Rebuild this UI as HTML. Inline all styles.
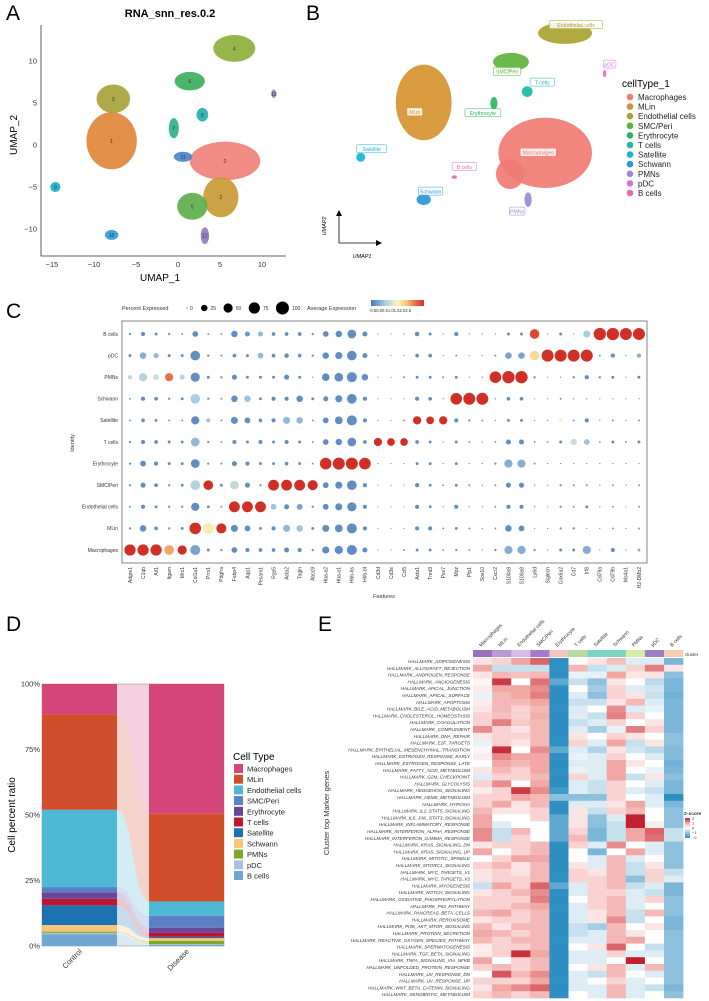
<!DOCTYPE html>
<html><head><meta charset="utf-8">
<style>
html,body{margin:0;padding:0;background:#fff;}
svg{display:block;font-family:"Liberation Sans",sans-serif;}
</style></head>
<body>
<svg id="fig" width="709" height="1001" viewBox="0 0 709 1001" xmlns="http://www.w3.org/2000/svg">
<g font-size="21" fill="#000">
<text x="6" y="20">A</text>
<text x="306" y="20">B</text>
<text x="6" y="318">C</text>
<text x="6" y="631">D</text>
<text x="318" y="631">E</text>
</g>
<g id="pa"></g>
<g id="pb"></g>
<g id="pc"></g>
<g id="pd"></g>
<g id="pe"></g>
</svg>
<script>
// ---------- Panel A data ----------
const aClusterIds = ['0','1','2','3','4','5','6','7','8','9','10','11','12','13'];
const aClusterU = [5.6,-7.9,5.1,-7.7,6.7,1.7,1.4,-0.5,2.9,-14.6,-7.9,0.6,3.2,11.4];
const aClusterV = [-1.9,0.5,-6.2,5.5,11.5,-7.3,7.6,2.0,3.6,-5.0,-10.7,-1.4,-10.8,6.1];
const aClusterRU = [4.2,3.0,2.1,2.0,2.5,1.8,1.8,0.6,0.7,0.6,0.8,1.1,0.5,0.3];
const aClusterRV = [2.3,3.4,2.4,1.7,1.6,1.6,1.1,1.2,0.8,0.6,0.6,0.6,1.0,0.5];
const aColors = ['#F0827B','#E0853A','#C99A35','#A8A23A','#8DB03C','#5CB04A','#3DAE5E','#2DB38D','#22B3AE','#1FAFCB','#2E9FDB','#4A86C8','#8E7CC3','#9A7FC0'];
const aXTicks = [-15,-10,-5,0,5,10];
const aYTicks = [-10,-5,0,5,10];
// ---------- Panel B data ----------
const bTypes = ['Macrophages','MLin','Endothelial cells','SMC/Peri','Erythrocyte','T cells','Satellite','Schwann','PMNs','pDC','B cells'];
const bColors = ['#F07C74','#D5922F','#A9A331','#5FB23C','#2DB35F','#1DBBA5','#19B4D2','#2A97D8','#9C86D6','#D873D4','#E96AAE'];
const bClusterU = [22.8,9.3,25,19,17.1,20.8,2.3,9.3,20.9,29.4,12.7];
const bClusterV = [10.8,16.4,24.1,20.9,16.3,17.6,10.3,5.6,5.6,19.6,8.1];
const bClusterRU = [5.2,3.1,3.0,2.0,0.4,0.6,0.5,0.8,0.4,0.2,0.3];
const bClusterRV = [3.9,4.2,1.2,1.0,0.7,0.6,0.5,0.6,0.8,0.4,0.2];
// ---------- Panel C data ----------
const cRows = ['B cells','pDC','PMNs','Schwann','Satellite','T cells','Erythrocyte','SMC/Peri','Endothelial cells','MLin','Macrophages'];
const cFeatures = ['Adgre1','C1qb','Aif1','Itgam','Mrc1','Col1a1','Prrx1','Pdgfra','Fabp4','Aqp1','Pecam1','Rgs5','Acta2','Tagln','Abcc9','Hba-a2','Hba-a1','Hbb-bs','Hbb-bt','Cd3d','Cd3e','Ccl5','Acta1','Tnnt3','Pax7','Mpz','Plp1','Sox10','Cxcr2','S100a9','S100a8','Ly6d','Siglech','Cox6a2','Cd7','Irf8','Cd79a','Cd79b','Ms4a1','H2-DMb2'];
const cPct = [
[3,10,5,3,2,20,2,2,25,15,15,8,8,8,3,20,25,45,15,1,1,1,12,5,1,10,1,1,1,5,5,55,1,5,1,30,90,90,85,85],
[5,25,15,5,5,55,3,2,8,5,20,8,12,8,3,25,30,55,15,0,0,0,8,8,0,2,1,0,2,25,25,55,85,85,85,85,2,10,1,10],
[10,40,20,40,15,50,5,3,15,5,5,5,15,5,1,35,45,60,25,0,0,2,5,5,2,5,1,1,80,90,90,3,0,1,3,10,3,5,0,5],
[2,10,8,3,5,55,3,2,25,25,5,10,10,25,5,15,30,55,10,0,0,0,10,8,1,80,85,85,1,8,8,0,0,2,1,1,0,1,0,1],
[2,8,5,2,2,40,10,2,30,20,8,10,30,25,2,20,35,60,10,0,0,2,40,35,40,10,3,2,0,5,5,1,1,5,2,10,1,2,1,2],
[3,10,8,5,5,45,3,2,10,5,10,5,10,5,2,20,25,45,8,40,35,35,8,5,1,5,2,1,2,15,15,2,2,5,25,20,2,5,2,5],
[3,20,10,5,5,45,3,2,15,10,5,5,8,5,2,80,85,85,80,1,1,1,5,5,1,5,1,1,3,40,40,2,1,1,1,1,1,1,1,1],
[3,15,8,3,5,55,55,5,45,15,3,70,70,70,60,20,30,55,10,0,0,0,10,5,2,5,2,1,2,15,15,1,1,3,2,2,1,2,1,2],
[2,10,5,3,3,40,5,2,70,70,70,20,15,20,3,20,30,50,10,0,0,0,10,5,1,10,1,1,2,10,10,1,0,3,2,5,1,2,0,2],
[3,25,8,3,5,80,70,60,30,20,5,10,30,25,5,30,35,60,10,0,0,0,10,10,2,5,2,1,2,25,20,1,1,3,3,1,1,2,1,2],
[75,75,75,55,50,60,5,3,20,10,8,8,15,10,3,30,40,60,15,0,1,2,5,5,2,3,2,1,3,40,40,3,1,5,5,40,1,10,1,5]];
const cExp = [
[-0.3,-0.3,-0.3,-0.3,-0.3,-0.3,-0.3,-0.3,-0.3,-0.2,0.1,-0.3,-0.3,-0.3,-0.3,-0.3,-0.3,-0.3,-0.3,-0.3,-0.3,-0.3,-0.3,-0.3,-0.3,-0.3,-0.3,-0.3,-0.3,-0.3,-0.3,2.3,-0.3,-0.3,-0.3,0.3,2.5,2.5,2.5,2.5],
[-0.3,0,0.1,-0.3,-0.3,-0.3,-0.3,-0.3,-0.3,-0.3,0.1,-0.3,-0.3,-0.3,-0.3,-0.3,-0.3,-0.3,-0.3,-0.3,-0.3,-0.3,-0.3,-0.3,-0.3,-0.3,-0.3,-0.3,-0.3,-0.1,-0.1,1.3,2.5,2.5,2.5,2.5,-0.3,-0.3,-0.3,0],
[0.5,0.4,0.6,2.0,0.4,-0.3,-0.3,-0.3,-0.3,-0.3,-0.3,-0.3,-0.3,-0.3,-0.3,-0.3,-0.3,-0.3,-0.3,-0.3,-0.3,-0.3,-0.3,-0.3,-0.3,-0.3,-0.3,-0.3,2.5,2.5,2.5,-0.3,-0.3,-0.3,-0.3,-0.3,-0.3,-0.3,-0.3,-0.3],
[-0.3,-0.3,-0.3,-0.3,-0.3,0.3,-0.3,-0.3,-0.3,0.2,-0.3,-0.3,-0.3,-0.3,-0.3,-0.3,-0.3,-0.3,-0.3,-0.3,-0.3,-0.3,-0.3,-0.3,-0.3,2.5,2.5,2.5,-0.3,-0.3,-0.3,-0.3,-0.3,-0.3,-0.3,-0.3,-0.3,-0.3,-0.3,-0.3],
[-0.3,-0.3,-0.3,-0.3,-0.3,-0.3,0.2,-0.3,-0.3,-0.3,-0.3,-0.3,0.1,0.1,-0.3,-0.3,-0.3,-0.3,-0.3,-0.3,-0.3,-0.3,2.5,2.5,2.5,-0.3,-0.3,-0.3,-0.3,-0.3,-0.3,-0.3,-0.3,0.9,-0.3,-0.3,-0.3,-0.3,-0.3,-0.3],
[-0.3,-0.3,-0.3,-0.3,-0.3,0.1,-0.3,-0.3,-0.3,-0.3,-0.3,-0.3,-0.3,-0.3,-0.3,-0.3,-0.3,-0.3,-0.3,2.5,2.5,2.5,-0.3,-0.3,-0.3,-0.3,-0.3,-0.3,-0.3,-0.3,-0.3,-0.3,-0.3,-0.3,0.6,0.2,-0.3,-0.3,-0.3,-0.3],
[-0.3,-0.3,-0.3,-0.3,-0.3,-0.3,-0.3,-0.3,-0.3,-0.3,-0.3,-0.3,-0.3,-0.3,-0.3,2.5,2.5,2.5,2.5,-0.3,-0.3,-0.3,-0.3,-0.3,-0.3,-0.3,-0.3,-0.3,-0.3,0,0,-0.3,-0.3,-0.3,-0.3,-0.3,-0.3,-0.3,-0.3,-0.3],
[-0.3,-0.3,-0.3,-0.3,-0.3,0.4,2.5,-0.3,0.5,-0.3,-0.3,2.5,2.5,2.5,2.5,-0.3,-0.3,-0.3,-0.3,-0.3,-0.3,-0.3,-0.3,-0.3,-0.3,-0.3,-0.3,-0.3,-0.3,-0.3,-0.3,-0.3,-0.3,-0.3,-0.3,-0.3,-0.3,-0.3,-0.3,-0.3],
[-0.3,-0.3,-0.3,-0.3,-0.3,-0.3,-0.3,-0.3,2.5,2.5,2.5,0.2,-0.3,-0.1,-0.3,-0.3,-0.3,-0.3,-0.3,-0.3,-0.3,-0.3,-0.3,-0.3,-0.3,-0.3,-0.3,-0.3,-0.3,-0.3,-0.3,-0.3,-0.3,-0.3,-0.3,-0.3,-0.3,-0.3,-0.3,-0.3],
[-0.3,-0.3,-0.3,-0.3,-0.3,2.5,1.1,2.5,-0.3,-0.3,-0.3,-0.3,0.1,0.2,-0.3,-0.3,-0.3,-0.3,-0.3,-0.3,-0.3,-0.3,-0.3,-0.3,-0.3,-0.3,-0.3,-0.3,-0.3,-0.3,-0.3,-0.3,-0.3,-0.3,-0.3,-0.3,-0.3,-0.3,-0.3,-0.3],
[2.5,2.5,2.5,1.7,2.5,-0.1,-0.3,-0.3,-0.3,-0.3,-0.3,-0.3,-0.3,-0.3,-0.3,-0.3,-0.3,-0.3,-0.3,-0.3,-0.3,-0.3,-0.3,-0.3,-0.3,-0.3,-0.3,-0.3,-0.3,0,0,-0.3,-0.3,-0.3,-0.3,0,-0.3,-0.3,-0.3,0]];
const cSizeLegend = [0,25,50,75,100];
// ---------- Panel D data ----------
const dGroups = ['Control','Disease'];
const dTypes = ['B cells','pDC','PMNs','Schwann','Satellite','T cells','Erythrocyte','SMC/Peri','Endothelial cells','MLin','Macrophages'];
const dColors = ['#6FA6D3','#A9BFE3','#7FA82A','#F6C779','#1D72B3','#BE1530','#6D4598','#5B80C6','#4DB9D4','#D24E2A','#D4467A'];
const dControl = [4.5,0.5,0.5,2.5,7.5,2.5,2.5,2.0,29.5,36.5,11.5];
const dDisease = [0.5,0.2,1.3,1.0,0.5,1.5,2.0,4.5,5.5,33.5,49.5];
const dYTicks = [0,25,50,75,100];
// ---------- Panel E data ----------
const eCols = ['Macrophages','MLin','Endothelial cells','SMC/Peri','Erythrocyte','T cells','Satellite','Schwann','PMNs','pDC','B cells'];
const eClusterColors = ['#9C6FC1','#B79AD8','#D7BCE7','#A57AC9','#F3C3C6','#B6DB9C','#7DD3C3','#7DD3C3','#D5EBA6','#9A80C7','#F7CFB0'];
const eRows = ['ADIPOGENESIS','ALLOGRAFT_REJECTION','ANDROGEN_RESPONSE','ANGIOGENESIS','APICAL_JUNCTION','APICAL_SURFACE','APOPTOSIS','BILE_ACID_METABOLISM','CHOLESTEROL_HOMEOSTASIS','COAGULATION','COMPLEMENT','DNA_REPAIR','E2F_TARGETS','EPITHELIAL_MESENCHYMAL_TRANSITION','ESTROGEN_RESPONSE_EARLY','ESTROGEN_RESPONSE_LATE','FATTY_ACID_METABOLISM','G2M_CHECKPOINT','GLYCOLYSIS','HEDGEHOG_SIGNALING','HEME_METABOLISM','HYPOXIA','IL2_STAT5_SIGNALING','IL6_JAK_STAT3_SIGNALING','INFLAMMATORY_RESPONSE','INTERFERON_ALPHA_RESPONSE','INTERFERON_GAMMA_RESPONSE','KRAS_SIGNALING_DN','KRAS_SIGNALING_UP','MITOTIC_SPINDLE','MTORC1_SIGNALING','MYC_TARGETS_V1','MYC_TARGETS_V2','MYOGENESIS','NOTCH_SIGNALING','OXIDATIVE_PHOSPHORYLATION','P53_PATHWAY','PANCREAS_BETA_CELLS','PEROXISOME','PI3K_AKT_MTOR_SIGNALING','PROTEIN_SECRETION','REACTIVE_OXYGEN_SPECIES_PATHWAY','SPERMATOGENESIS','TGF_BETA_SIGNALING','TNFA_SIGNALING_VIA_NFKB','UNFOLDED_PROTEIN_RESPONSE','UV_RESPONSE_DN','UV_RESPONSE_UP','WNT_BETA_CATENIN_SIGNALING','XENOBIOTIC_METABOLISM'];
const eZ = [
[0.3,0.5,1.0,1.5,-2,0,0.3,0.7,-0.3,-0.3,-1.2],
[1.0,-0.5,-0.5,-0.5,-2,0.8,-0.5,-0.3,0.5,1.3,0.3],
[0.3,0.8,0.7,0.8,-2,-0.2,-0.2,1.0,0.3,0.3,-1],
[0.1,1.8,0,1.4,-1.5,-0.5,-1,0.3,0,-0.6,-1.2],
[0.2,1.0,1.0,1.2,-2,0,-0.8,0.5,-0.3,-0.4,-1.2],
[-0.2,0.8,1.0,1.3,-2,-0.3,-1,0.5,0.3,-0.5,-1.3],
[0.2,0.8,0.8,1.0,-2,-0.5,-0.5,0.3,0.8,-0.3,-1.2],
[0.3,0.8,0.5,0.8,-2,-0.3,0,1.2,-0.3,-0.2,-1.2],
[0.5,0.7,0.5,0.9,-2,-0.3,-0.5,1.3,0.5,0,-1.2],
[0.5,1.3,0.6,0.8,-2,-0.5,-0.3,0.5,0,0.3,-1.2],
[1.2,0.5,0.3,0.8,-2,-0.3,-0.8,-0.2,1.3,0.5,-1.2],
[0.3,0.5,0.5,0.8,-2,0.3,0,0.5,0.3,0,-1],
[-0.2,0.5,0.3,0.8,-2,0.5,-0.3,1.0,-0.5,0.3,-1],
[0.1,1.9,0,1.2,-1.5,-0.3,-0.7,0.3,-0.4,-0.6,-1.1],
[0.2,1.2,1.0,1.0,-2,-0.2,-0.3,0.5,0,-0.3,-1.1],
[0,1.0,0.8,1.0,-2,-0.3,-0.3,1.0,0.3,0,-1.3],
[0.3,0.8,0.5,1.0,-2,-0.2,-0.3,1.0,0,-0.2,-1.2],
[-0.3,0.5,0.5,0.8,-2,0.5,-0.3,1.0,-0.5,0.3,-1],
[0.5,1.2,0,1.0,-2,-0.3,-0.5,0.5,0,-0.3,-1.2],
[0.2,0.5,1.8,1.2,-1.8,-0.3,-0.5,0.5,-0.3,-0.5,-1.2],
[0.5,0.5,1.0,0.8,-1,-1,-1,0.5,0,-0.3,-2],
[0.5,1.0,0.3,0.8,-2,-0.3,-0.3,0.3,1.0,-0.3,-1.2],
[0.8,0.3,0.3,0.5,-2,0.3,-0.5,0.5,0.8,0,-1],
[1.0,0,0,0.5,-1.5,0.3,-1,-0.3,2,0,-1],
[1.0,-0.3,0,0,-1.5,0.3,-1,-0.5,2,0.2,-1],
[1.2,-0.5,0.8,0,-1.5,0.5,-1.2,-0.5,1,1.5,-0.5],
[1.2,-0.5,0.5,0,-1.5,0.8,-1.2,-0.5,1,1.4,-0.5],
[0.3,0.5,0.5,0.8,-2,0.5,-0.3,1.2,0,-0.3,-1],
[1.0,0,0.5,0.8,-2,0,-1.2,0,1.0,-0.3,-1],
[0,0.5,1.0,1.0,-2,0,-0.3,0.8,-0.3,0,-1],
[0.5,0.8,0.3,0.8,-2,0.3,-0.3,0.8,-0.5,0.3,-1],
[0.3,0.5,0.3,0.8,-2,0.5,0.3,0.8,-0.5,0.5,-0.5],
[0.3,0.5,0.5,0.8,-2,0.5,0.5,0.8,-1,0.5,-0.3],
[-0.5,1.0,0.5,1.5,-1.5,-0.3,0.5,0.8,-0.5,-0.3,-1.2],
[0.3,0.5,0.8,1.2,-2,-0.3,0.5,0.5,-0.3,-0.5,-1.2],
[0.5,0.5,0.5,1.3,-2,0,0.5,0.8,-0.3,0.5,-1],
[0.5,0.5,0.8,1.0,-2,-0.3,0.5,0.8,-0.3,0,-1],
[0.8,1.0,0.5,0.8,-2,-0.3,0.3,0.8,-0.5,0.8,-1],
[0.3,0.5,0.5,0.8,-2,-0.3,0.3,1.2,-0.5,0,-1.2],
[0.8,0.3,0.8,0.8,-2,-0.5,-0.8,0.8,0,0.3,-1.2],
[1.0,0.8,0.5,0.8,-2,-0.5,-0.3,0.8,0.3,0,-1],
[0.8,0.5,0.8,0.8,-2,-0.3,-0.3,0.8,1.0,0,-1],
[0.2,0.5,0.5,0.8,-2,0,0.3,1.5,0,-0.5,-1],
[0.2,0.5,1.9,1.0,-2,-0.3,-0.3,0.5,-0.3,-0.3,-1],
[1.0,0,0.5,0.8,-2,-0.3,-0.3,0,2,0,-1],
[0.5,0.8,0.5,0.8,-2,0,0.3,0.8,-0.3,0.8,-1],
[0,1.6,0.8,1.2,-2,-0.3,-0.5,0.8,0,-0.3,-1],
[0.5,0.5,0.5,1.0,-2,-0.3,0,0.5,-0.3,0,-1],
[0.3,1.0,1.2,1.5,-2,-0.3,-0.3,0.8,-0.3,-0.5,-1.2],
[0.5,0.8,0.5,0.8,-2,0,-0.3,0.8,-0.3,0,-1]];
const eLegendTicks = [2,1,0,-1,-2];

const NS = 'http://www.w3.org/2000/svg';
function mk(parent, tag, attrs, txt){
  const e = document.createElementNS(NS, tag);
  for (const k in attrs) e.setAttribute(k, attrs[k]);
  if (txt !== undefined) e.textContent = txt;
  parent.appendChild(e);
  return e;
}
function hex(c){return [parseInt(c.slice(1,3),16),parseInt(c.slice(3,5),16),parseInt(c.slice(5,7),16)];}
function interp(stops, v){
  if (v <= stops[0][0]) return stops[0][1];
  for (let i=1;i<stops.length;i++){
    if (v <= stops[i][0]){
      const t=(v-stops[i-1][0])/(stops[i][0]-stops[i-1][0]);
      const a=hex(stops[i-1][1]), b=hex(stops[i][1]);
      return 'rgb('+a.map((x,j)=>Math.round(x+(b[j]-x)*t)).join(',')+')';
    }
  }
  return stops[stops.length-1][1];
}

// ================= Panel A =================
(function(){
  const g = document.getElementById('pa');
  const xA = u => 178 + 8.4*u;
  const yA = v => 145 - 8.4*v;
  const t = mk(g,'text',{x:170,y:17,'font-size':11,'font-weight':'bold','text-anchor':'middle'},'RNA_snn_res.0.2');
  
  
  for (let i=0;i<aClusterIds.length;i++){
    const e = mk(g,'ellipse',{cx:xA(aClusterU[i]),cy:yA(aClusterV[i]),rx:8.4*aClusterRU[i],ry:8.4*aClusterRV[i],fill:aColors[i],opacity:0.92});
    
    
    const l = mk(g,'text',{x:xA(aClusterU[i]),y:yA(aClusterV[i])+2,'font-size':5,'text-anchor':'middle',fill:'#333'},aClusterIds[i]);
    
    
  }
  const ax = mk(g,'path',{d:'M41,25 V256 H286',stroke:'#333','stroke-width':0.8,fill:'none'});
  
  
  aXTicks.forEach(v=>{
    const tk = mk(g,'text',{x:xA(v),y:267,'font-size':7.5,'text-anchor':'middle',fill:'#333'},v<0?'\u2212'+(-v):v);
    
    
  });
  aYTicks.forEach(v=>{
    const tk = mk(g,'text',{x:37,y:yA(v)+2.5,'font-size':7.5,'text-anchor':'end',fill:'#333'},v<0?'\u2212'+(-v):v);
    
    
  });
  const xt = mk(g,'text',{x:160,y:281,'font-size':10,'text-anchor':'middle'},'UMAP_1');
  
  
  const yt = mk(g,'text',{x:0,y:0,'font-size':10,'text-anchor':'middle',transform:'translate(17,135) rotate(-90)'},'UMAP_2');
  
  
})();

// ================= Panel B =================
(function(){
  const g = document.getElementById('pb');
  const xB = u => 340 + 9*u;
  const yB = v => 250 - 9*v;
  // label placement offsets (layout only): dx, dy in px relative to cluster centre
  const labDX = [-7,-9,11,-4,-11,15,11,7,-11,5,10];
  const labDY = [0,10,-8,10,10,-9,-8,-8,12,-9,-10];
  for (let i=0;i<bTypes.length;i++){
    const e = mk(g,'ellipse',{cx:xB(bClusterU[i]),cy:yB(bClusterV[i]),rx:9*bClusterRU[i],ry:9*bClusterRV[i],fill:bColors[i],opacity:0.92});
    
    
  }
  const ext = mk(g,'ellipse',{cx:510,cy:174,rx:14,ry:15,fill:bColors[0],opacity:0.92});
  
  
  for (let i=0;i<bTypes.length;i++){
    const cx = xB(bClusterU[i]) + labDX[i], cy = yB(bClusterV[i]) + labDY[i];
    const w = bTypes[i].length*2.9+4;
    const r = mk(g,'rect',{x:cx-w/2,y:cy-4.5,width:w,height:8,fill:'#fff','fill-opacity':0.85,stroke:bColors[i],'stroke-width':0.5,rx:1});
    
    
    const l = mk(g,'text',{x:cx,y:cy+1.8,'font-size':5.2,'text-anchor':'middle',fill:bColors[i]},bTypes[i]);
    
    
  }
  const arr = mk(g,'path',{d:'M339,243 V213 M339,243 H379',stroke:'#000','stroke-width':0.8,fill:'none'});
  
  
  const ah = mk(g,'path',{d:'M336,216 L339,210 L342,216 Z M376,240 L382,243 L376,246 Z',fill:'#000'});
  
  
  const u1 = mk(g,'text',{x:362,y:258,'font-size':5.5,'font-style':'italic','text-anchor':'middle'},'UMAP1');
  
  
  const u2 = mk(g,'text',{x:0,y:0,'font-size':5.5,'font-style':'italic','text-anchor':'middle',transform:'translate(326,226) rotate(-90)'},'UMAP2');
  
  
  const lt = mk(g,'text',{x:622,y:87,'font-size':10},'cellType_1');
  
  
  bTypes.forEach((n,i)=>{
    const y = 97 + i*9.6;
    const d = mk(g,'circle',{cx:630,cy:y,r:3.3,fill:bColors[i]});
    
    
    const t = mk(g,'text',{x:638,y:y+3,'font-size':8,fill:'#222'},n);
    
    
  });
})();

// ================= Panel C =================
(function(){
  const g = document.getElementById('pc');
  const stops = [[-0.5,'#4A78B5'],[0.3,'#A9CDE3'],[1.0,'#FBF5BE'],[1.5,'#F6C97A'],[2.0,'#E8704A'],[2.5,'#D02F27']];
  const xC = j => 130 + j*13.05;
  const yC = i => 334 + i*21.6;
  const rC = p => 6.5*Math.sqrt(p/100);
  const box = mk(g,'rect',{x:122,y:321,width:525,height:242,fill:'#fff',stroke:'#666','stroke-width':0.8});
  
  
  cRows.forEach((r,i)=>{
    const t = mk(g,'text',{x:118,y:yC(i)+1.8,'font-size':5,'text-anchor':'end',fill:'#333'},r);
    
    
    cFeatures.forEach((f,j)=>{
      const p = cPct[i][j];
      const c = mk(g,'circle',{cx:xC(j),cy:yC(i),r:Math.max(0.6,rC(p)),fill:interp(stops,cExp[i][j])});
      
      
    });
  });
  cFeatures.forEach((f,j)=>{
    const t = mk(g,'text',{x:0,y:0,'font-size':5,'text-anchor':'end',fill:'#333',transform:'translate('+(xC(j)+1.8)+',567) rotate(-90)'},f);
    
    
  });
  const fx = mk(g,'text',{x:384,y:598,'font-size':5.5,'text-anchor':'middle',fill:'#333'},'Features');
  
  
  const iy = mk(g,'text',{x:0,y:0,'font-size':5.5,'text-anchor':'middle',fill:'#333',transform:'translate(74,443) rotate(-90)'},'Identity');
  
  
  const pl = mk(g,'text',{x:122,y:310,'font-size':5.5,fill:'#333'},'Percent Expressed');
  
  
  let lx = 187;
  cSizeLegend.forEach(v=>{
    const r = rC(v);
    const c = mk(g,'circle',{cx:lx+r,cy:308,r:Math.max(0.5,r),fill:'#000'});
    
    
    const t = mk(g,'text',{x:lx+2*r+3,y:310,'font-size':5,fill:'#333'},v);
    
    
    lx += 2*r + 12 + String(v).length*2;
  });
  const al = mk(g,'text',{x:307,y:310,'font-size':5.5,fill:'#333'},'Average Expression');
  
  
  const defs = mk(g,'defs',{});
  const lg = mk(defs,'linearGradient',{id:'cgrad',x1:0,x2:1,y1:0,y2:0});
  stops.forEach(s=>mk(lg,'stop',{offset:((s[0]+0.5)/3),'stop-color':s[1]}));
  const cb = mk(g,'rect',{x:371,y:300,width:53,height:6,fill:'url(#cgrad)'});
  
  
  const ct = mk(g,'text',{x:369,y:312,'font-size':4.2,fill:'#333'},'-0.50.00.51.01.52.02.5');
  
  
})();

// ================= Panel D =================
(function(){
  const g = document.getElementById('pd');
  const y0 = 946, y1 = 684;
  const yD = p => y0 - (y0-y1)*p/100;
  const bars = [{x:42,w:75,vals:dControl},{x:149,w:75,vals:dDisease}];
  const bg = mk(g,'rect',{x:42,y:684,width:182,height:262,fill:'#fff',stroke:'#999','stroke-width':0.6});
  
  
  let c0=0, c1=0;
  for (let k=0;k<dTypes.length;k++){
    const a0=yD(c0), a1=yD(c0+dControl[k]), b0=yD(c1), b1=yD(c1+dDisease[k]);
    const xa=117, xb=149, xm=133;
    const p = mk(g,'path',{d:`M${xa},${a1} C${xm},${a1} ${xm},${b1} ${xb},${b1} L${xb},${b0} C${xm},${b0} ${xm},${a0} ${xa},${a0} Z`,fill:dColors[k],opacity:0.25});
    
    
    c0+=dControl[k]; c1+=dDisease[k];
  }
  bars.forEach((b,bi)=>{
    let cum=0;
    b.vals.forEach((v,k)=>{
      const r = mk(g,'rect',{x:b.x,y:yD(cum+v),width:b.w,height:yD(cum)-yD(cum+v),fill:dColors[k]});
      
      
      cum+=v;
    });
    const t = mk(g,'text',{x:0,y:0,'font-size':7.5,'text-anchor':'end',fill:'#333',transform:'translate('+(b.x+b.w/2+3)+',952) rotate(-45)'},dGroups[bi]);
    
    
  });
  dYTicks.forEach(v=>{
    const t = mk(g,'text',{x:40,y:yD(v)+2.5,'font-size':7.5,'text-anchor':'end',fill:'#333'},v+'%');
    
    
  });
  const yt = mk(g,'text',{x:0,y:0,'font-size':10,'text-anchor':'middle',transform:'translate(15,815) rotate(-90)'},'Cell percent ratio');
  
  
  const lt = mk(g,'text',{x:233,y:760,'font-size':10},'Cell Type');
  
  
  const order = [10,9,8,7,6,5,4,3,2,1,0];
  order.forEach((k,i)=>{
    const y = 764 + i*10.7;
    const r = mk(g,'rect',{x:234,y:y,width:9,height:9,fill:dColors[k]});
    
    
    const t = mk(g,'text',{x:247,y:y+7.5,'font-size':7.5,fill:'#222'},dTypes[k]);
    
    
  });
})();

// ================= Panel E =================
(function(){
  const g = document.getElementById('pe');
  const stops = [[-2,'#2F8FC2'],[-1,'#8CC0DD'],[0,'#FFFFFF'],[1,'#F1A7A4'],[2,'#C3202F']];
  const x0 = 473, cw = 19.1, y0 = 658, rh = 6.8;
  const xE = j => x0 + j*cw;
  const yE = i => y0 + i*rh;
  eCols.forEach((c,j)=>{
    const r = mk(g,'rect',{x:xE(j),y:650,width:cw+0.3,height:7,fill:eClusterColors[j]});
    
    
    const t = mk(g,'text',{x:0,y:0,'font-size':5,fill:'#333',transform:'translate('+(xE(j)+8)+',647) rotate(-45)'},c);
    
    
  });
  const cl = mk(g,'text',{x:685,y:656,'font-size':4.5,fill:'#333'},'cluster');
  
  
  eRows.forEach((r,i)=>{
    eZ[i].forEach((v,j)=>{
      const c = mk(g,'rect',{x:xE(j),y:yE(i),width:cw+0.3,height:rh+0.3,fill:interp(stops,v)});
      
      
    });
    const t = mk(g,'text',{x:470,y:yE(i)+5,'font-size':4.6,'font-style':'italic','text-anchor':'end',fill:'#333'},'HALLMARK_'+r);
    
    
  });
  const yt = mk(g,'text',{x:0,y:0,'font-size':7.5,'text-anchor':'middle',fill:'#333',transform:'translate(329,813) rotate(-90)'},'Cluster top Marker genes');
  
  
  const zt = mk(g,'text',{x:684,y:815,'font-size':4.8,'font-weight':'bold',fill:'#333'},'Z-score');
  
  
  const defs = mk(g,'defs',{});
  const lg = mk(defs,'linearGradient',{id:'egrad',x1:0,x2:0,y1:0,y2:1});
  stops.slice().reverse().forEach((s,k)=>mk(lg,'stop',{offset:k/4,'stop-color':s[1]}));
  const bar = mk(g,'rect',{x:685,y:818,width:5,height:20,fill:'url(#egrad)'});
  
  
  eLegendTicks.forEach((v,k)=>{
    const t = mk(g,'text',{x:692,y:820+k*4.7,'font-size':4,fill:'#333'},v<0?'\u2212'+(-v):v);
    
    
  });
})();
</script>
</body></html>
